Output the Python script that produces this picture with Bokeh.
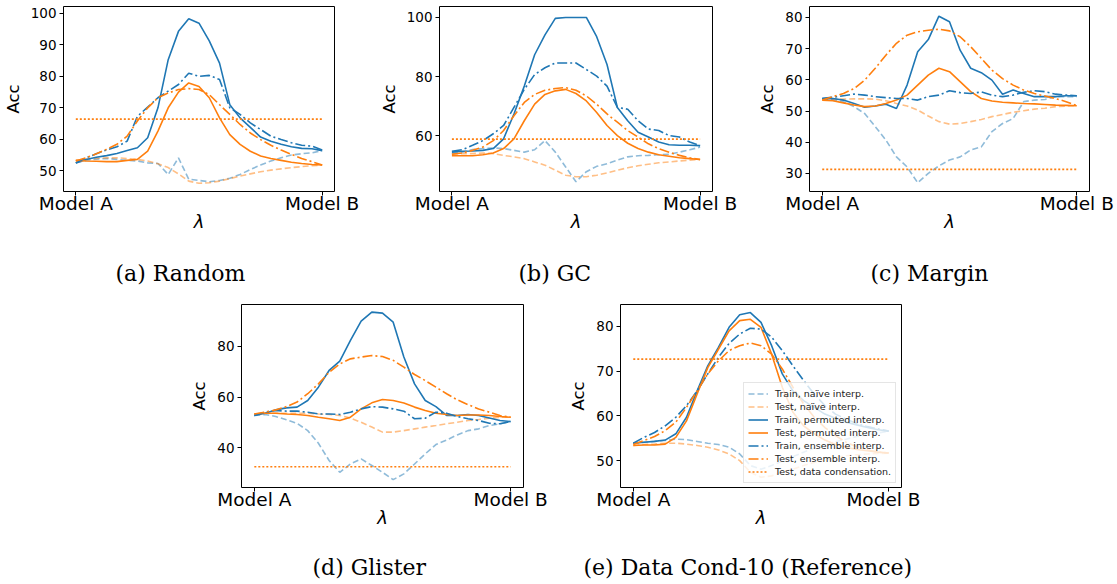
import numpy as np
from bokeh.plotting import figure
from bokeh.models import Legend, LegendItem, Spacer, FixedTicker, Range1d, Title
from bokeh.layouts import row, column
from bokeh.embed import file_html
from bokeh.resources import INLINE

# interpolation coefficient lambda, Model A (0) -> Model B (1)
lam = np.linspace(0.0, 1.0, 25)

# ---- (a) Random ----
random_train_naive = [52.5, 53.3, 53.7, 53.9, 53.6, 53.3, 53.1, 52.5, 52.3, 48.8, 54.1, 47.3, 46.9,
                      46.5, 46.9, 47.6, 48.8, 50.4, 51.8, 53.1, 54.1, 55.0, 55.4, 55.7, 56.4]
random_test_naive = [53.3, 53.7, 53.9, 54.1, 54.1, 53.9, 53.6, 53.1, 52.2, 51.0, 49.0, 46.7, 46.0,
                     46.2, 46.7, 47.5, 48.3, 49.0, 49.7, 50.2, 50.6, 51.0, 51.3, 51.6, 51.8]
random_train_perm = [52.5, 53.6, 54.3, 54.8, 55.5, 56.4, 57.3, 60.5, 70.0, 85.3, 94.3, 98.3, 96.9,
                     91.3, 84.2, 71.0, 66.8, 63.8, 60.7, 59.4, 58.4, 57.6, 57.1, 57.0, 56.4]
random_test_perm = [53.3, 53.1, 53.0, 52.9, 52.9, 53.3, 53.6, 56.2, 62.6, 70.0, 75.0, 77.9, 76.8,
                    73.2, 66.8, 61.5, 58.4, 56.2, 54.7, 53.9, 53.3, 52.7, 52.3, 52.0, 51.8]
random_train_ens = [52.5, 54.1, 55.4, 56.6, 57.6, 59.4, 67.3, 70.2, 73.2, 75.3, 77.4, 81.0, 80.0,
                    80.3, 79.0, 70.0, 67.9, 65.2, 63.1, 61.0, 59.9, 58.9, 58.1, 57.8, 56.6]
random_test_ens = [53.1, 54.1, 55.4, 56.8, 58.4, 61.0, 65.8, 70.0, 73.2, 74.7, 75.8, 76.1, 75.8,
                   74.2, 71.0, 67.9, 64.7, 62.0, 59.9, 58.1, 56.6, 55.2, 53.9, 52.9, 51.8]
random_cond = 66.4

# ---- (b) GC ----
gc_train_naive = [54.0, 54.5, 55.4, 55.7, 55.9, 55.7, 55.1, 54.5, 55.3, 58.4, 54.5, 49.5, 44.5,
                  47.9, 49.7, 50.6, 51.8, 52.9, 53.3, 53.4, 53.6, 53.8, 54.5, 55.3, 56.2]
gc_test_naive = [53.8, 54.0, 54.0, 54.2, 54.0, 53.4, 52.9, 52.3, 51.2, 50.1, 48.4, 46.7, 46.2,
                 46.2, 46.7, 47.5, 48.4, 49.2, 49.9, 50.4, 50.9, 51.2, 51.5, 51.8, 52.0]
gc_train_perm = [54.5, 54.8, 54.9, 55.1, 55.7, 59.0, 67.4, 76.8, 87.4, 94.1, 99.7, 100.0, 100.0,
                 100.0, 93.5, 84.1, 69.6, 65.1, 61.2, 59.6, 57.9, 57.0, 56.8, 56.8, 56.7]
gc_test_perm = [53.3, 53.3, 53.3, 53.6, 54.2, 55.7, 59.0, 65.1, 70.7, 74.0, 75.2, 75.7, 74.3,
                71.8, 67.9, 63.5, 60.1, 57.5, 55.7, 54.5, 53.6, 53.1, 52.6, 52.3, 52.0]
gc_train_ens = [54.8, 55.3, 56.8, 58.4, 60.7, 63.5, 69.6, 75.7, 80.7, 83.0, 84.6, 84.6, 84.6,
                82.4, 80.2, 76.8, 69.6, 69.0, 65.1, 62.3, 61.8, 60.1, 59.6, 57.9, 56.7]
gc_test_ens = [53.8, 54.2, 55.1, 56.2, 58.4, 61.8, 66.8, 71.3, 74.0, 75.4, 76.0, 76.3, 75.4,
               73.5, 70.7, 67.4, 64.6, 61.8, 59.6, 57.3, 55.7, 54.5, 53.4, 52.6, 52.0]
gc_cond = 58.9

# ---- (c) Margin ----
margin_train_naive = [53.9, 53.5, 53.0, 51.4, 49.2, 45.0, 40.7, 35.3, 32.1, 27.0, 30.0, 32.4, 34.3,
                      35.3, 37.5, 38.5, 43.4, 46.0, 47.6, 53.0, 53.5, 53.7, 54.6, 54.6, 54.6]
margin_test_naive = [53.7, 53.8, 53.8, 53.9, 53.9, 53.8, 53.3, 52.4, 51.6, 50.3, 48.4, 46.6, 45.8,
                     46.0, 46.6, 47.3, 48.2, 48.9, 49.6, 50.1, 50.6, 50.9, 51.4, 51.6, 51.7]
margin_train_perm = [53.9, 54.0, 53.5, 52.4, 51.2, 51.6, 52.2, 50.8, 58.3, 69.0, 72.9, 80.4, 78.6,
                     69.5, 63.7, 62.3, 59.9, 55.4, 56.7, 55.6, 54.6, 54.6, 54.6, 54.9, 54.9]
margin_test_perm = [53.5, 53.3, 52.6, 51.9, 51.4, 51.6, 52.4, 53.5, 55.1, 58.3, 61.5, 63.7, 62.6,
                    59.4, 56.2, 54.0, 53.2, 52.8, 52.6, 52.4, 52.3, 52.1, 51.9, 51.8, 51.7]
margin_train_ens = [54.1, 54.4, 54.9, 55.4, 55.1, 54.6, 54.3, 54.0, 54.0, 53.5, 54.6, 55.1, 56.5,
                    55.9, 55.6, 56.1, 55.1, 54.6, 55.1, 56.0, 56.5, 56.2, 55.4, 55.1, 54.9]
margin_test_ens = [53.5, 54.6, 55.6, 57.2, 59.9, 63.7, 67.9, 71.7, 74.3, 75.4, 75.9, 76.2, 75.7,
                   73.8, 70.6, 66.9, 63.1, 60.4, 58.3, 56.7, 55.6, 54.8, 54.0, 53.0, 51.7]
margin_cond = 31.3

# ---- (d) Glister ----
glister_train_naive = [52.7, 53.1, 52.3, 51.0, 49.6, 46.7, 41.7, 34.9, 30.2, 33.5, 35.5, 32.9, 30.2,
                       27.3, 29.6, 33.5, 37.5, 41.2, 43.0, 45.0, 46.7, 47.4, 48.7, 49.4, 50.3]
glister_test_naive = [53.3, 53.6, 53.6, 53.6, 53.6, 53.6, 53.3, 53.1, 52.7, 51.7, 50.0, 48.1, 46.1,
                      46.1, 46.7, 47.4, 48.1, 48.7, 49.4, 50.0, 50.7, 51.1, 51.6, 52.0, 52.0]
glister_train_perm = [52.7, 53.6, 54.9, 55.7, 56.0, 58.6, 63.9, 70.5, 74.2, 82.4, 90.0, 93.6, 93.2,
                      89.6, 75.8, 65.2, 58.6, 56.2, 52.7, 52.7, 53.1, 52.7, 51.7, 50.7, 50.3]
glister_test_perm = [53.3, 53.6, 53.6, 53.3, 53.1, 52.7, 52.0, 51.4, 50.7, 52.0, 55.3, 57.7, 59.0,
                     58.6, 57.6, 56.0, 54.7, 53.6, 53.1, 52.7, 52.9, 52.9, 52.7, 52.3, 52.0]
glister_train_ens = [52.7, 54.0, 54.7, 54.4, 54.4, 54.0, 53.3, 53.3, 53.1, 54.0, 55.3, 56.2, 56.0,
                     55.3, 54.4, 51.4, 51.6, 54.0, 53.6, 52.3, 51.4, 50.7, 49.6, 49.4, 50.3]
glister_test_ens = [53.3, 54.0, 54.9, 56.2, 58.0, 61.3, 65.2, 69.8, 73.1, 75.1, 75.8, 76.4, 76.0,
                    74.5, 71.8, 68.9, 66.5, 63.9, 61.3, 58.9, 57.0, 55.3, 54.0, 52.7, 52.0]
glister_cond = 32.4

# ---- (e) Data Cond-10 ----
dc_train_naive = [53.9, 54.1, 54.3, 54.5, 54.8, 54.7, 54.3, 53.9, 53.6, 53.0, 51.5, 48.9, 48.1,
                  48.9, 49.9, 50.9, 51.9, 52.8, 53.6, 54.2, 54.8, 55.4, 55.8, 56.2, 56.6]
dc_test_naive = [53.4, 53.6, 53.7, 53.9, 53.9, 53.7, 53.4, 53.0, 52.4, 51.5, 50.0, 47.4, 46.3,
                 46.6, 47.4, 48.1, 48.9, 49.6, 50.1, 50.7, 51.1, 51.3, 51.5, 51.6, 51.7]
dc_train_perm = [53.9, 54.1, 54.3, 54.6, 56.0, 59.7, 65.6, 71.2, 75.3, 79.8, 82.6, 83.1, 80.9,
                 75.7, 69.4, 65.6, 63.4, 61.9, 60.4, 59.5, 58.6, 58.0, 57.4, 56.9, 56.6]
dc_test_perm = [53.4, 53.5, 53.5, 53.7, 55.2, 58.9, 64.9, 70.8, 74.9, 79.0, 81.3, 81.6, 79.8,
                73.8, 66.4, 60.8, 57.8, 56.0, 54.6, 53.6, 53.0, 52.5, 52.2, 51.9, 51.7]
dc_train_ens = [53.9, 55.2, 56.3, 57.8, 59.7, 62.3, 65.6, 69.4, 73.1, 76.2, 78.3, 79.6, 79.4,
                77.6, 74.6, 71.2, 67.9, 64.9, 62.3, 60.4, 59.3, 58.3, 57.6, 57.1, 56.6]
dc_test_ens = [53.6, 54.5, 55.4, 56.7, 58.6, 61.9, 65.6, 69.4, 72.3, 74.6, 75.7, 76.3, 75.7,
               73.8, 70.5, 66.4, 62.7, 59.7, 57.4, 55.6, 54.1, 53.1, 52.4, 51.9, 51.7]
dc_cond = 72.7

series_labels = ["Train, naïve interp.", "Test, naïve interp.", "Train, permuted interp.",
                 "Test, permuted interp.", "Train, ensemble interp.", "Test, ensemble interp.",
                 "Test, data condensation."]
x_tick_labels = {0: "Model A", 1: "Model B"}

BLUE = "#1f77b4"
ORANGE = "#ff7f0e"
SANS = "DejaVu Sans"
SERIF = "DejaVu Serif"

ROW_H = [290, 294]
CAPTION_GAP = [17, 15]  # blank space between the x axis and the caption, per row

# layout of each panel: figure offset/width, frame box inside the figure (l, r, t, b),
# horizontal shift of the caption from the frame's left edge
panels = [
    dict(caption="(a) Random", row=0, fig_x=0, fig_w=370, frame=(61, 334, 5, 191),
         yr=(43.4, 102.2), yticks=[50, 60, 70, 80, 90, 100], cap_dx=52,
         series=[random_train_naive, random_test_naive, random_train_perm, random_test_perm,
                 random_train_ens, random_test_ens], cond=random_cond),
    dict(caption="(b) GC", row=0, fig_x=370, fig_w=370, frame=(69, 342, 5, 191),
         yr=(41.2, 103.7), yticks=[60, 80, 100], cap_dx=79,
         series=[gc_train_naive, gc_test_naive, gc_train_perm, gc_test_perm,
                 gc_train_ens, gc_test_ens], cond=gc_cond),
    dict(caption="(c) Margin", row=0, fig_x=740, fig_w=377, frame=(69, 349, 6, 191),
         yr=(24.2, 83.5), yticks=[30, 40, 50, 60, 70, 80], cap_dx=61,
         series=[margin_train_naive, margin_test_naive, margin_train_perm, margin_test_perm,
                 margin_train_ens, margin_test_ens], cond=margin_cond),
    dict(caption="(d) Glister", row=1, fig_x=180, fig_w=370, frame=(61, 343, 14, 197),
         yr=(24.2, 96.6), yticks=[40, 60, 80], cap_dx=71,
         series=[glister_train_naive, glister_test_naive, glister_train_perm, glister_test_perm,
                 glister_train_ens, glister_test_ens], cond=glister_cond),
    dict(caption="(e) Data Cond-10 (Reference)", row=1, fig_x=550, fig_w=370,
         frame=(70, 351, 14, 197), yr=(44.0, 84.9), yticks=[50, 60, 70, 80], cap_dx=-37,
         series=[dc_train_naive, dc_test_naive, dc_train_perm, dc_test_perm,
                 dc_train_ens, dc_test_ens], cond=dc_cond, legend=True),
]

# (colour, alpha, dash) per series
styles = [
    (BLUE, 0.5, "6 3"),
    (ORANGE, 0.5, "6 3"),
    (BLUE, 1.0, "solid"),
    (ORANGE, 1.0, "solid"),
    (BLUE, 1.0, "10 3 2 3"),
    (ORANGE, 1.0, "10 3 2 3"),
]


def make_panel(cfg):
    row_h = ROW_H[cfg["row"]]
    fl, fr, ft, fb = cfg["frame"]
    w = cfg["fig_w"]
    p = figure(width=w, height=row_h, x_range=Range1d(-0.05, 1.05),
               y_range=Range1d(*cfg["yr"]), output_backend="svg", toolbar_location=None,
               min_border_left=fl, min_border_right=w - fr,
               min_border_top=ft, min_border_bottom=row_h - fb)
    p.background_fill_color = "white"
    p.border_fill_color = "white"
    p.outline_line_color = "black"
    p.outline_line_width = 1
    p.xgrid.visible = False
    p.ygrid.visible = False

    for ax in (p.xaxis[0], p.yaxis[0]):
        ax.axis_line_color = None
        ax.major_tick_out = 4
        ax.major_tick_in = 0
        ax.minor_tick_out = 0
        ax.minor_tick_in = 0
        ax.major_tick_line_color = "black"
        ax.major_label_text_color = "black"
        ax.major_label_text_font = SANS
        ax.axis_label_text_font = SANS
        ax.axis_label_text_color = "black"

    p.yaxis.ticker = FixedTicker(ticks=cfg["yticks"])
    p.yaxis.major_label_text_font_size = "13.5px"
    p.yaxis.major_label_standoff = 3
    p.yaxis.axis_label = "Acc"
    p.yaxis.axis_label_text_font_style = "normal"
    p.yaxis.axis_label_text_font_size = "16.5px"
    p.yaxis.axis_label_standoff = 5

    p.xaxis.ticker = FixedTicker(ticks=[0, 1])
    p.xaxis.major_label_overrides = x_tick_labels
    p.xaxis.major_label_text_font_size = "18.5px"
    p.xaxis.major_label_standoff = -3
    p.xaxis.axis_label = "λ"
    p.xaxis.axis_label_text_font_style = "italic"
    p.xaxis.axis_label_text_font_size = "18px"
    p.xaxis.axis_label_standoff = -6

    renderers = []
    for vals, (col, alpha, dash) in zip(cfg["series"], styles):
        r = p.line(lam, vals, line_color=col, line_alpha=alpha, line_width=1.6, line_dash=dash)
        renderers.append(r)
    cond_line = [cfg["cond"]] * len(lam)
    r = p.line(lam, cond_line, line_color=ORANGE, line_width=1.6, line_dash="2 2")
    renderers.append(r)

    # blank gap between the axis and the caption, then the caption itself
    p.add_layout(Title(text=" ", text_font_size="1px", standoff=CAPTION_GAP[cfg["row"]]), "below")
    p.add_layout(Title(text=cfg["caption"], align="left", offset=cfg["cap_dx"],
                       text_font=SERIF, text_font_size="22px", text_font_style="normal",
                       text_color="black", standoff=8), "below")

    if cfg.get("legend"):
        items = [LegendItem(label=lbl, renderers=[rr]) for lbl, rr in zip(series_labels, renderers)]
        leg = Legend(items=items, location=(123, 4), label_text_font=SANS,
                     label_text_font_size="9.5px", label_text_color="#222222",
                     glyph_width=20, glyph_height=13, label_height=13, label_standoff=7,
                     spacing=0, padding=4, margin=0,
                     border_line_color="#cccccc", border_line_width=1,
                     background_fill_color="white", background_fill_alpha=0.8)
        p.add_layout(leg)
    return p


figs = [make_panel(c) for c in panels]
top = row(figs[0], figs[1], figs[2])
bottom = row(Spacer(width=180, height=ROW_H[1]), figs[3], figs[4])
page = column(top, bottom)

open("out.html", "w").write(file_html(page, INLINE))
